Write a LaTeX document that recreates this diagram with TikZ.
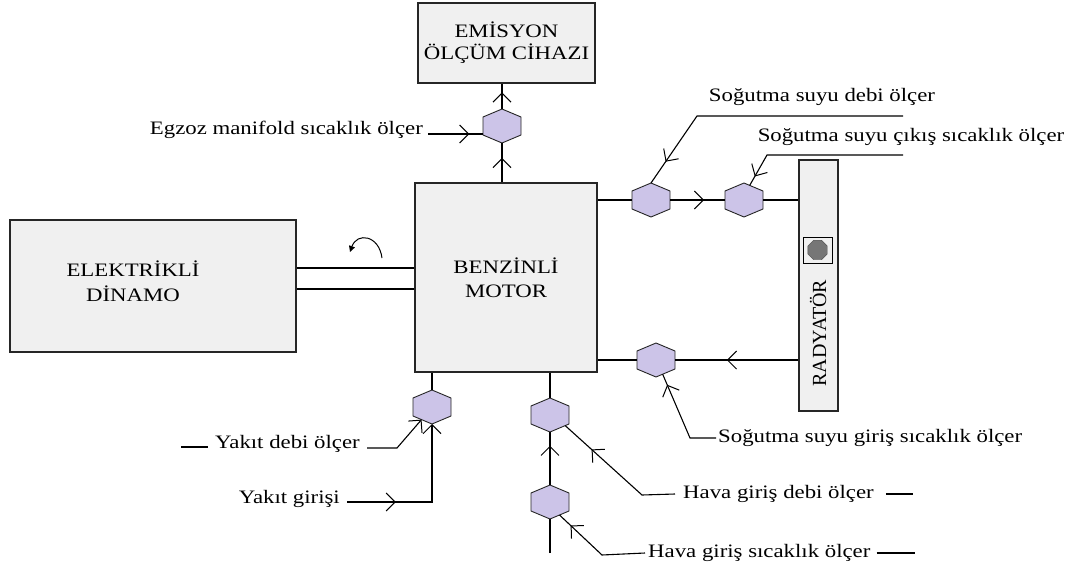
\documentclass[tikz,border=0pt]{standalone}
\usepackage{fontspec}
\setmainfont[FakeStretch=1.2]{Liberation Serif}
\newfontfamily\plainserif{Liberation Serif}
\usetikzlibrary{shapes.geometric,arrows.meta,decorations.markings,calc}
\definecolor{boxfill}{RGB}{240,240,240}
\definecolor{hexfill}{RGB}{204,196,232}
\definecolor{octfill}{RGB}{118,118,118}
\newcommand\hexnode[2]{%
  \node[hexbox] (#1) at (#2) {};
  \coordinate (#1-ur) at ([yshift=-8pt]#1.north east);
  \coordinate (#1-lr) at ([yshift=8pt]#1.south east);
  \coordinate (#1-ll) at ([yshift=8pt]#1.south west);
  \coordinate (#1-ul) at ([yshift=-8pt]#1.north west);
  \draw[hexline] (#1.north) -- (#1-ur) -- (#1-lr) -- (#1.south) -- (#1-ll) -- (#1-ul) -- cycle;
}
\begin{document}
\begin{tikzpicture}[x=1pt,y=-1pt,
  >={Straight Barb[length=9pt,width=18pt,line width=1pt]},
  txt/.style={font=\fontsize{19}{22}\selectfont, inner sep=0pt},
  box/.style={draw=black!85, fill=boxfill, line width=1.2pt, align=center, inner sep=0pt, font=\fontsize{19}{22}\selectfont},
  hexbox/.style={rectangle, minimum width=38pt, minimum height=34pt, inner sep=0pt, outer sep=0pt},
  hexline/.style={draw=black!85, fill=hexfill, line width=0.9pt},
  wire/.style={line width=1.1pt},
  midarrow/.style={postaction={decorate}, decoration={markings, mark=at position #1 with {\arrow{>}}}},
]
\useasboundingbox (0,0) rectangle (1074,570);

% boxes
\node[box, minimum width=177pt, minimum height=80pt] (emis) at (506.5,43) {EMİSYON\\ÖLÇÜM CİHAZI};
\node[box, minimum width=182pt, minimum height=189pt] (motor) at (506,277.5) {BENZİNLİ\\[2pt]MOTOR};
\node[box, minimum width=286pt, minimum height=132pt] (dyn) at (153,286) {};
\node[txt, align=center] (dyntext) at (133,281) {ELEKTRİKLİ\\[3pt]DİNAMO};
\node[box, minimum width=39pt, minimum height=251pt] (rad) at (818.5,285.5) {};
\node[draw=black, line width=1pt, fill=boxfill, minimum width=29pt, minimum height=26pt, inner sep=0pt] (cap) at (817.5,250) {};
\node[regular polygon, regular polygon sides=8, fill=octfill, draw=black!70, minimum size=21pt, inner sep=0pt] (plug) at (cap) {};
\node[rotate=90, font=\plainserif\fontsize{20}{22}\selectfont, inner sep=0pt] (radtxt) at (818,333) {RADYATÖR};

% shaft
\draw[wire] (dyn.east |- 0,268) -- (motor.west |- 0,268);
\draw[wire] (dyn.east |- 0,289) -- (motor.west |- 0,289);
\draw[line width=1pt, -{Triangle[length=6pt,width=6pt]}] (382,258) .. controls (379,235) and (357,232) .. (350,252);

% sensors
\hexnode{hT}{502,126}
\hexnode{hC1}{651,200}
\hexnode{hC2}{744,200}
\hexnode{hC3}{656,360}
\hexnode{hF}{432,407}
\hexnode{hA1}{550,415}
\hexnode{hA2}{550,502}

% exhaust
\draw[wire, midarrow=0.62] (hT.south |- motor.north) -- (hT.south);
\draw[wire, midarrow=0.65] (hT.north) -- (hT.north |- emis.south);
\node[txt, anchor=east] (egz) at (423,130) {Egzoz manifold sıcaklık ölçer};
\coordinate (egzA) at (428,134);
\draw[wire, midarrow=0.75] (egzA) -- (egzA -| hT.west);

% coolant
\draw[wire] (motor.east |- hC1) -- (hC1.west);
\draw[wire, midarrow=0.62] (hC1.east) -- (hC2.west);
\draw[wire] (hC2.east) -- (rad.west |- hC2);
\draw[wire, midarrow=0.58] (rad.west |- hC3) -- (hC3.east);
\draw[wire] (hC3.west) -- (motor.east |- hC3);

\node[txt] (lCdebi) at (822,97) {Soğutma suyu debi ölçer};
\coordinate (kCd1) at (903,116);
\coordinate (kCd2) at (697,116);
\draw[wire, midarrow=0.91] (kCd1) -- (kCd2) -- (hC1.north);

\node[txt] (lCcikis) at (911,137) {Soğutma suyu çıkış sıcaklık ölçer};
\coordinate (kCc1) at (903,155);
\coordinate (kCc2) at (767,155);
\draw[wire, midarrow=0.94] (kCc1) -- (kCc2) -- ($(hC2.north)!0.3!(hC2-ur)$);

\node[txt, anchor=west] (lCgiris) at (718,438) {Soğutma suyu giriş sıcaklık ölçer};
\coordinate (kCg) at (690,438);
\draw[wire, midarrow=0.88] ([xshift=-2pt]lCgiris.west) -- (kCg) -- ($(hC3.south)!0.35!(hC3-lr)$);

% air
\draw[wire] (hA1.north |- motor.south) -- (hA1.north);
\draw[wire, midarrow=0.74] (hA2.north) -- (hA1.south);
\coordinate (airIn) at (550,553);
\draw[wire] (airIn) -- (hA2.south);

\node[txt, anchor=west] (lHd) at (683,494) {Hava giriş debi ölçer};
\coordinate (kHd) at (642,495);
\draw[wire, midarrow=0.74] ([xshift=-8pt]lHd.west) -- (kHd) -- ($(hA1.south)!0.8!(hA1-lr)$);
\draw[wire] ([xshift=12pt]lHd.east) -- ([xshift=39pt]lHd.east);

\node[txt, anchor=west] (lHs) at (648,553) {Hava giriş sıcaklık ölçer};
\coordinate (kHs) at (602,555);
\draw[wire, midarrow=0.85] ([xshift=-3pt]lHs.west) -- (kHs) -- ($(hA2.south)!0.5!(hA2-lr)$);
\draw[wire] ([xshift=6pt]lHs.east) -- ([xshift=44pt]lHs.east);

% fuel
\draw[wire] (hF.north |- motor.south) -- (hF.north);
\node[txt, anchor=east] (lYg) at (340,499) {Yakıt girişi};
\coordinate (kYg0) at (347,502);
\coordinate (kYg) at (432,502);
\draw[wire, ->, midarrow=0.3] (kYg0) -- (kYg) -- (hF.south);

\node[txt, anchor=west] (lYd) at (215,444) {Yakıt debi ölçer};
\coordinate (kYd0) at (367,448);
\coordinate (kYd) at (397,448);
\draw[wire, ->] (kYd0) -- (kYd) -- ($(hF.south)!0.55!(hF-ll)$);
\coordinate (dashA) at (181,447);
\coordinate (dashB) at (208,447);
\draw[wire] (dashA) -- (dashB);
\end{tikzpicture}
\end{document}
